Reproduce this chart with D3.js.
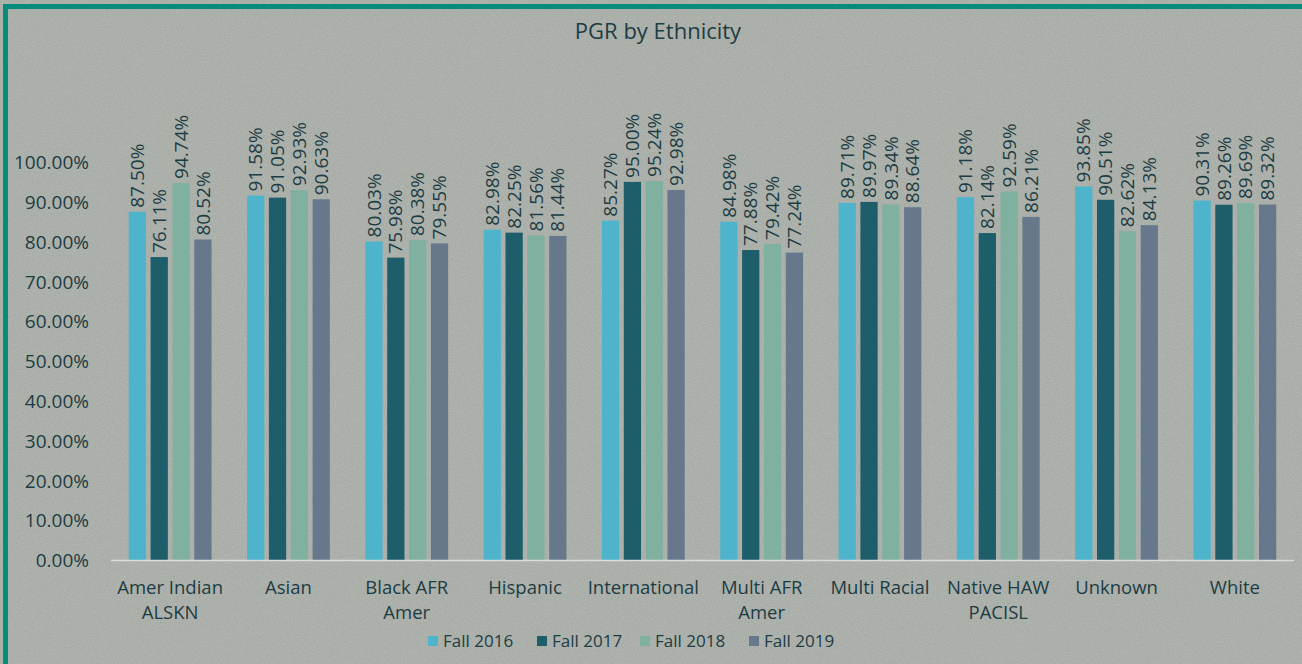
<!DOCTYPE html>
<html>
<head>
<meta charset="utf-8">
<script src="https://cdn.jsdelivr.net/npm/d3@7"></script>
<style>
  html, body { margin: 0; padding: 0; background: #a9ada7; }
  svg { display: block; }
  text { font-family: "Open Sans", "Noto Sans", sans-serif; fill: #1c3c44; }
</style>
</head>
<body>
<div id="chart"></div>
<script>
// data
var categories = [["Amer Indian", "ALSKN"], ["Asian"], ["Black AFR", "Amer"], ["Hispanic"], ["International"],
    ["Multi AFR", "Amer"], ["Multi Racial"], ["Native HAW", "PACISL"], ["Unknown"], ["White"]];
var seriesNames = ["Fall 2016", "Fall 2017", "Fall 2018", "Fall 2019"];
var fall2016 = [87.50, 91.58, 80.03, 82.98, 85.27, 84.98, 89.71, 91.18, 93.85, 90.31];
var fall2017 = [76.11, 91.05, 75.98, 82.25, 95.00, 77.88, 89.97, 82.14, 90.51, 89.26];
var fall2018 = [94.74, 92.93, 80.38, 81.56, 95.24, 79.42, 89.34, 92.59, 82.62, 89.69];
var fall2019 = [80.52, 90.63, 79.55, 81.44, 92.98, 77.24, 88.64, 86.21, 84.13, 89.32];
var yTicks = [0, 10, 20, 30, 40, 50, 60, 70, 80, 90, 100];
var colors = ["#4db4cc", "#1e5d6a", "#80b09f", "#67788d"];

var W = 1302, H = 664;
var svg = d3.select("#chart").append("svg").attr("width", W).attr("height", H);

// speckled paper background
var defs = svg.append("defs");
var f = defs.append("filter").attr("id", "noise").attr("x", 0).attr("y", 0).attr("width", "100%").attr("height", "100%");
f.append("feTurbulence").attr("type", "fractalNoise").attr("baseFrequency", 0.9).attr("numOctaves", 2).attr("seed", 3);
f.append("feColorMatrix").attr("type", "matrix")
    .attr("values", "0 0 0 0 1  0 0 0 0 1  0 0 0 0 1  0 0 0 -1.6 1.05");
svg.append("rect").attr("width", W).attr("height", H).attr("fill", "#a8aca6");
svg.append("rect").attr("width", W).attr("height", H).attr("filter", "url(#noise)").attr("opacity", 0.18);

// teal frame on top and left
svg.append("path").attr("d", "M5.5," + H + "V6.5H" + W)
    .attr("fill", "none").attr("stroke", "#078c7c").attr("stroke-width", 5);

var x0 = d3.scaleBand().domain(d3.range(categories.length)).range([111, 1294]).paddingInner(0.3).paddingOuter(0.15);
var x1 = d3.scaleBand().domain(d3.range(seriesNames.length)).range([0, x0.bandwidth()]).paddingInner(0.21);
var y = d3.scaleLinear().domain([0, 100]).range([560, 162]);

// title
svg.append("text").attr("x", 658).attr("y", 39).attr("text-anchor", "middle")
    .style("font-size", "22px").text("PGR by Ethnicity");

// y axis labels
var yAxis = d3.axisLeft(y).tickValues(yTicks).tickSize(0).tickPadding(0)
    .tickFormat(function (d) { return d.toFixed(2) + "%"; });
var ya = svg.append("g").attr("transform", "translate(89,0)").call(yAxis);
ya.select(".domain").remove();
ya.selectAll("text").style("font-size", "19px").style("font-family", null).attr("fill", "#1c3c44").attr("dy", "0.35em");

var series = [fall2016, fall2017, fall2018, fall2019];
var groups = svg.selectAll("g.cat").data(categories).enter().append("g")
    .attr("class", "cat")
    .attr("transform", function (d, i) { return "translate(" + x0(i) + ",0)"; });

groups.each(function (c, i) {
    var g = d3.select(this);
    var vals = series.map(function (s) { return s[i]; });
    g.selectAll("rect").data(vals).enter().append("rect")
        .attr("x", function (d, j) { return x1(j); })
        .attr("y", function (d) { return y(d); })
        .attr("width", x1.bandwidth())
        .attr("height", function (d) { return y(0) - y(d); })
        .attr("fill", function (d, j) { return colors[j]; });
    g.selectAll("text.val").data(vals).enter().append("text")
        .attr("class", "val")
        .attr("transform", function (d, j) {
            return "translate(" + (x1(j) + x1.bandwidth() / 2) + "," + (y(d) - 4) + ") rotate(-90)";
        })
        .attr("dy", "0.35em")
        .style("font-size", "19px")
        .text(function (d) { return d.toFixed(2) + "%"; });
});

// x axis line
svg.append("line").attr("x1", 111).attr("x2", 1294).attr("y1", 560.5).attr("y2", 560.5)
    .attr("stroke", "#dcdcdc").attr("stroke-width", 1.5);

// category labels
var xl = svg.selectAll("text.cat").data(categories).enter().append("text")
    .attr("class", "cat")
    .attr("text-anchor", "middle")
    .attr("x", function (d, i) { return x0(i) + x0.bandwidth() / 2; })
    .attr("y", 594)
    .style("font-size", "18.5px");
xl.selectAll("tspan").data(function (d) { return d; }).enter().append("tspan")
    .attr("x", function () { return d3.select(this.parentNode).attr("x"); })
    .attr("dy", function (d, k) { return k === 0 ? 0 : 25; })
    .text(function (d) { return d; });

// legend
var legX = [428, 537, 640, 749];
var leg = svg.selectAll("g.leg").data(seriesNames).enter().append("g")
    .attr("class", "leg")
    .attr("transform", function (d, i) { return "translate(" + legX[i] + ",636)"; });
leg.append("rect").attr("width", 10).attr("height", 10).attr("fill", function (d, i) { return colors[i]; });
leg.append("text").attr("x", 15).attr("y", 5).attr("dy", "0.35em").style("font-size", "17px")
    .text(function (d) { return d; });
</script>
</body>
</html>
